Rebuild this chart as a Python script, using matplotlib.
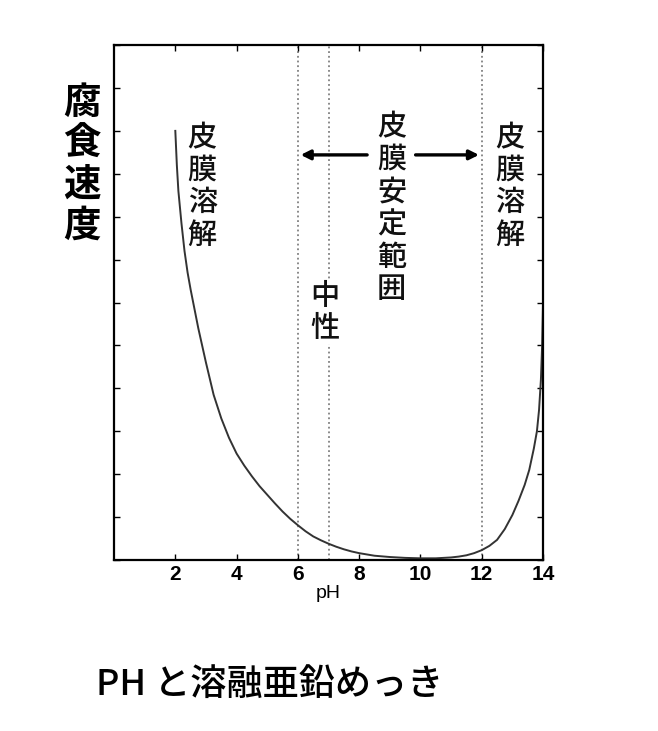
import matplotlib
matplotlib.use("Agg")
import matplotlib.pyplot as plt

plt.rcParams['font.family'] = ['Noto Sans CJK JP', 'DejaVu Sans']

# 曲線 (pH と 腐食速度、図から読み取り)
ph = [2.0, 2.05, 2.1, 2.2, 2.3, 2.4, 2.5, 2.625, 2.75, 2.875, 3.0, 3.25, 3.5, 3.75,
      4.0, 4.25, 4.5, 4.75, 5.0, 5.25, 5.5, 5.75, 6.0, 6.25, 6.5, 6.75, 7.0, 7.25,
      7.5, 7.75, 8.0, 8.5, 9.0, 9.5, 10.0, 10.5, 11.0, 11.25, 11.5, 11.75, 12.0,
      12.25, 12.5, 12.75, 13.0, 13.2, 13.4, 13.55, 13.7, 13.8, 13.87, 13.93, 13.97, 14.0]
rate = [10.0, 9.2, 8.6, 7.85, 7.2, 6.7, 6.3, 5.85, 5.4, 5.0, 4.6, 3.85, 3.3, 2.85,
        2.48, 2.2, 1.95, 1.72, 1.52, 1.32, 1.13, 0.96, 0.81, 0.67, 0.55, 0.46, 0.38, 0.31,
        0.25, 0.2, 0.16, 0.1, 0.07, 0.05, 0.04, 0.04, 0.06, 0.08, 0.11, 0.16, 0.23,
        0.33, 0.47, 0.72, 1.05, 1.38, 1.75, 2.1, 2.6, 3.0, 3.5, 4.2, 5.0, 6.0]

vlines = [6, 7, 12]
xticks = [2, 4, 6, 8, 10, 12, 14]
yticks = list(range(0, 13))

fig = plt.figure(figsize=(6.58, 7.31), dpi=100)
ax = fig.add_axes([0.1733, 0.2339, 0.652, 0.7045])

ax.plot(ph, rate, color='#333333', lw=1.4)
for v in vlines:
    ax.axvline(v, color='#808080', ls=(0, (1, 1.6)), lw=1.3, zorder=1)

ax.set_xlim(0, 14)
ax.set_ylim(0, 12)
ax.set_xticks(xticks)
ax.set_yticks(yticks)
ax.set_yticklabels([])
ax.tick_params(direction='in', top=True, right=True, length=4, width=1)
for lab in ax.get_xticklabels():
    lab.set_fontfamily(['Liberation Sans', 'DejaVu Sans'])
    lab.set_fontweight('bold')
    lab.set_fontsize(15)
for s in ax.spines.values():
    s.set_linewidth(1.6)
ax.set_xlabel('pH', fontsize=14, family=['Liberation Sans', 'DejaVu Sans'], labelpad=1)


def tate(x, ytop, s, size, step, **kw):
    # 縦書き: 1文字ずつ下へ
    for i, ch in enumerate(s):
        ax.text(x, ytop - i * step, ch, fontsize=size, ha='center', va='top', **kw)


step = 32.5 / 42.9
tate(2.88, 10.2, '皮膜溶解', 21, step, color='#111111', weight='medium')
tate(12.92, 10.2, '皮膜溶解', 21, step, color='#111111', weight='medium')
tate(9.06, 10.45, '皮膜安定範囲', 21, step, color='#111111', weight='medium')
for ch, yy in zip('中性', [6.5, 5.75]):
    ax.text(6.87, yy, ch, fontsize=21, ha='center', va='top', color='#111111',
            weight='medium', bbox=dict(facecolor='white', edgecolor='none', pad=0))

# 矢印
ax.annotate('', xy=(6.0, 9.44), xytext=(8.35, 9.44),
            arrowprops=dict(arrowstyle='-|>', lw=2.4, color='black', mutation_scale=14))
ax.annotate('', xy=(12.0, 9.44), xytext=(9.75, 9.44),
            arrowprops=dict(arrowstyle='-|>', lw=2.4, color='black', mutation_scale=14))

# 縦軸ラベル
for i, ch in enumerate('腐食速度'):
    fig.text(82 / 658, 1 - (83 + i * 41) / 731, ch, fontsize=27, weight='bold',
             ha='center', va='top')

fig.text(270 / 658, 1 - 685 / 731, 'PH と溶融亜鉛めっき', fontsize=26,
         ha='center', va='center', weight='medium')

fig.savefig('out.png', dpi=100)
